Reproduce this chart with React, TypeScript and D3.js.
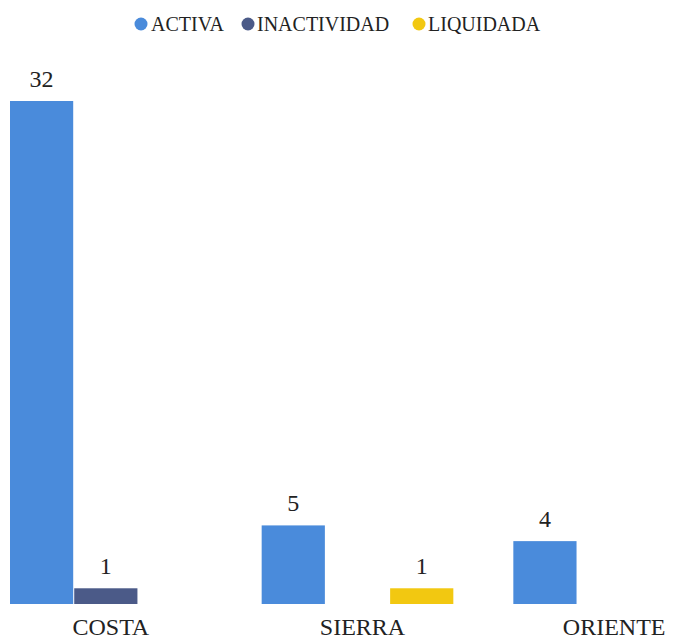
import React from "react";
import * as d3 from "d3";

const categories = ["COSTA", "SIERRA", "ORIENTE"];
const series = ["ACTIVA", "INACTIVIDAD", "LIQUIDADA"];
const activa = [32, 5, 4];
const inactividad = [1, 0, 0];
const liquidada = [0, 1, 0];
const colors = ["#4A8BDB", "#4B5A88", "#F2C811"];

const W = 673;
const H = 639;

const FONT = '"Liberation Serif", "Times New Roman", Tinos, "DejaVu Serif", serif';

export default function App() {
  const values = [activa, inactividad, liquidada];
  const x0 = d3.scaleBand<string>().domain(categories).range([-20, 735]).padding(0);
  const step = x0.bandwidth();
  const x1 = d3
    .scaleBand<string>()
    .domain(series)
    .range([30, step - 30])
    .paddingInner(0.016)
    .paddingOuter(0);
  const y = d3.scaleLinear().domain([0, 32]).range([604, 101]);

  const legendPos = [
    { cx: 141, tx: 151 },
    { cx: 248, tx: 257 },
    { cx: 419, tx: 428 },
  ];

  return (
    <svg
      width={W}
      height={H}
      style={{ position: "absolute", left: 0, top: 0, background: "#fff", fontFamily: FONT }}
    >
      {series.map((s, i) => (
        <g key={s}>
          <circle cx={legendPos[i].cx} cy={24} r={6.5} fill={colors[i]} />
          <text x={legendPos[i].tx} y={31} fontSize={20} fill="#222" style={{ fontFamily: FONT }}>
            {s}
          </text>
        </g>
      ))}
      {categories.map((c, ci) => (
        <g key={c}>
          {series.map((s, si) => {
            const v = values[si][ci];
            if (!v) return null;
            const bx = (x0(c) ?? 0) + (x1(s) ?? 0);
            return (
              <g key={s}>
                <rect
                  x={bx}
                  y={y(v)}
                  width={x1.bandwidth()}
                  height={y(0) - y(v)}
                  fill={colors[si]}
                />
                <text
                  x={bx + x1.bandwidth() / 2}
                  y={y(v) - 14}
                  fontSize={24}
                  textAnchor="middle"
                  fill="#222"
                  style={{ fontFamily: FONT }}
                >
                  {v}
                </text>
              </g>
            );
          })}
          <text
            x={(x0(c) ?? 0) + step / 2 + 5}
            y={635}
            fontSize={24}
            textAnchor="middle"
            fill="#222"
            style={{ fontFamily: FONT }}
          >
            {c}
          </text>
        </g>
      ))}
    </svg>
  );
}
